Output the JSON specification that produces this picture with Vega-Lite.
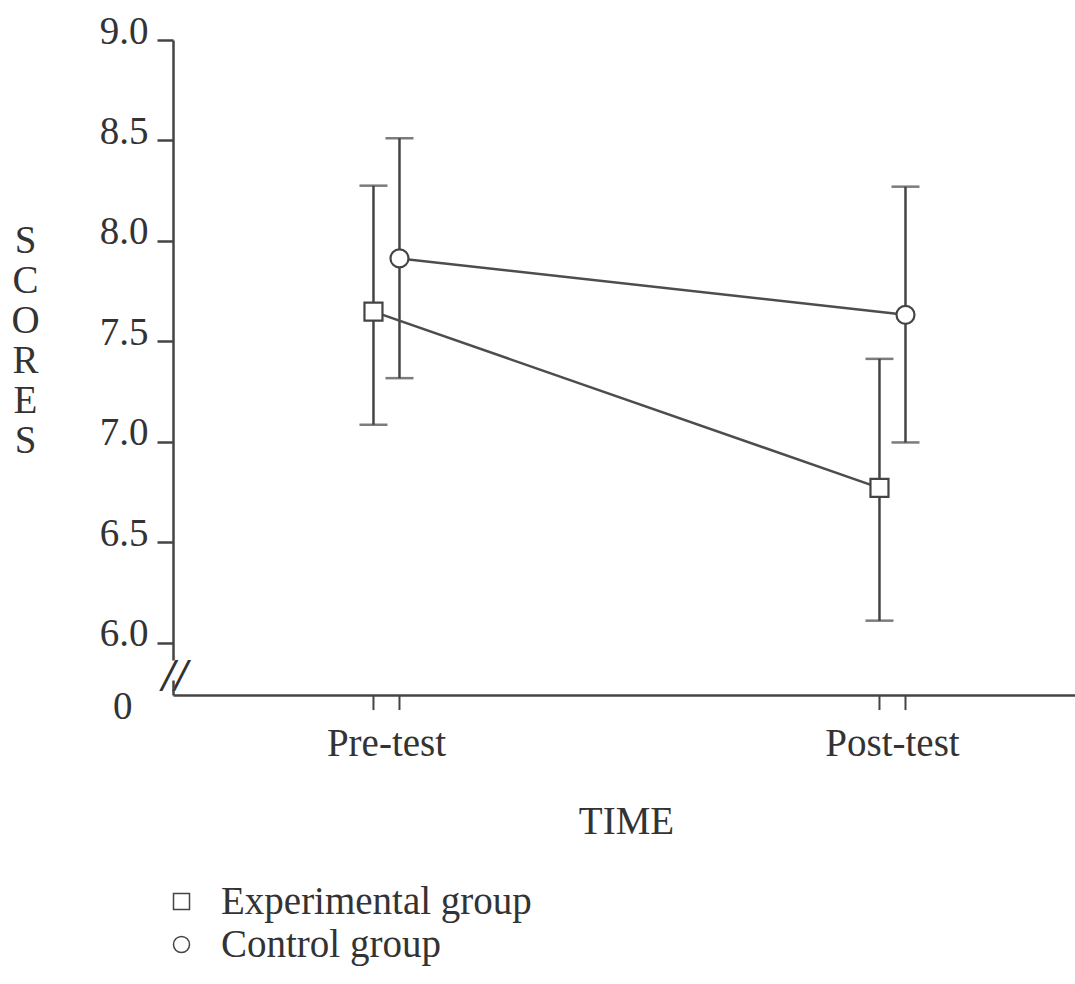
{
  "$schema": "https://vega.github.io/schema/vega-lite/v6.json",
  "autosize": {"type": "none"},
  "padding": {"left": 173, "top": 40, "right": 0, "bottom": 289},
  "width": 902,
  "height": 655,
  "background": "white",
  "config": {"view": {"stroke": null}, "font": "Liberation Serif"},
  "data": {
    "values": [
      {"time": "Pre-test", "group": "Experimental group", "mean": 7.648, "low": 7.085, "high": 8.275},
      {"time": "Pre-test", "group": "Control group", "mean": 7.913, "low": 7.317, "high": 8.511},
      {"time": "Post-test", "group": "Experimental group", "mean": 6.771, "low": 6.11, "high": 7.413},
      {"time": "Post-test", "group": "Control group", "mean": 7.632, "low": 6.997, "high": 8.27}
    ]
  },
  "encoding": {
    "x": {
      "field": "time",
      "type": "nominal",
      "sort": ["Pre-test", "Post-test"],
      "scale": {"type": "band", "domain": ["Pre-test", "Post-test"], "paddingInner": 0.8972, "paddingOuter": 0.3399, "align": 0.545},
      "axis": {
        "title": "TIME",
        "domainColor": "#444",
        "domainWidth": 2.5,
        "ticks": false,
        "labelAngle": 0,
        "labelFontSize": 39,
        "labelBaseline": "alphabetic",
        "labelPadding": 60,
        "labelColor": "#333",
        "titleFontSize": 39,
        "titleFontWeight": "normal",
        "titleColor": "#333",
        "titleX": 453,
        "titleY": 138,
        "titleBaseline": "alphabetic",
        "titleAlign": "center",
        "grid": false
      }
    },
    "xOffset": {
      "field": "group",
      "type": "nominal",
      "scale": {"domain": ["Experimental group", "Control group"], "paddingInner": 0, "paddingOuter": 0}
    }
  },
  "layer": [
    {
      "mark": {"type": "rule", "stroke": "#444", "strokeWidth": 2.5},
      "encoding": {
        "y": {
          "field": "low",
          "type": "quantitative",
          "scale": {"domain": [5.74, 9.0], "nice": false, "zero": false},
          "axis": {
            "title": ["S", "C", "O", "R", "E", "S"],
            "titleAngle": 0,
            "titleFontSize": 39,
            "titleFontWeight": "normal",
            "titleColor": "#333",
            "titleLineHeight": 40,
            "titleX": -148,
            "titleY": 212,
            "titleAlign": "center",
            "titleBaseline": "alphabetic",
            "values": [5.74, 5.831, 6, 6.5, 7, 7.5, 8, 8.5, 9],
            "labelExpr": "datum.value < 5.8 ? '0' : datum.value < 5.9 ? '//' : format(datum.value, '.1f')",
            "labelFontSize": {"condition": {"test": "datum.value > 5.8 && datum.value < 5.9", "value": 46}, "value": 39},
            "labelFontWeight": {"condition": {"test": "datum.value > 5.8 && datum.value < 5.9", "value": "bold"}, "value": "normal"},
            "labelFontStyle": {"condition": {"test": "datum.value > 5.8 && datum.value < 5.9", "value": "italic"}, "value": "normal"},
            "labelColor": "#333",
            "labelBaseline": {"condition": {"test": "datum.value > 5.8 && datum.value < 5.9", "value": "middle"}, "value": "alphabetic"},
            "labelOffset": {"condition": [{"test": "datum.value < 5.8", "value": 23}, {"test": "datum.value < 5.9", "value": 0}], "value": 3},
            "labelPadding": {"condition": [{"test": "datum.value < 5.8", "value": 25}, {"test": "datum.value < 5.9", "value": -30}], "value": 9},
            "tickSize": 16,
            "tickWidth": 2.5,
            "tickColor": "#444",
            "tickOpacity": {"condition": {"test": "datum.value < 5.9", "value": 0}, "value": 1},
            "domainDash": [15, 20, 2000],
            "domainWidth": 2.5,
            "domainColor": "#444",
            "grid": false
          }
        },
        "y2": {"field": "high"}
      }
    },
    {
      "mark": {"type": "tick", "orient": "horizontal", "size": 28, "thickness": 2.5, "color": "#444"},
      "encoding": {"y": {"field": "low", "type": "quantitative"}}
    },
    {
      "mark": {"type": "tick", "orient": "horizontal", "size": 28, "thickness": 2.5, "color": "#444"},
      "encoding": {"y": {"field": "high", "type": "quantitative"}}
    },
    {
      "mark": {"type": "rule", "stroke": "#444", "strokeWidth": 2},
      "encoding": {"y": {"datum": 5.74, "type": "quantitative"}, "y2": {"datum": 5.665}}
    },
    {
      "mark": {"type": "line", "stroke": "#4d4d4d", "strokeWidth": 2.5},
      "encoding": {
        "y": {"field": "mean", "type": "quantitative"},
        "detail": {"field": "group"}
      }
    },
    {
      "mark": {"type": "point", "filled": true, "fill": "white", "stroke": "#444", "strokeWidth": 2.2, "size": 324, "opacity": 1},
      "encoding": {
        "y": {"field": "mean", "type": "quantitative"},
        "shape": {
          "field": "group",
          "type": "nominal",
          "scale": {"domain": ["Experimental group", "Control group"], "range": ["square", "circle"]},
          "legend": {
            "orient": "none",
            "legendX": -11,
            "legendY": 842,
            "title": null,
            "labelFontSize": 39,
            "labelColor": "#333",
            "labelLimit": 0,
            "labelOffset": 20,
            "symbolSize": 256,
            "rowPadding": 3,
            "encode": {
              "symbols": {
                "update": {
                  "stroke": {"value": "#444"},
                  "strokeWidth": {"value": 2},
                  "fill": {"value": "white"},
                  "opacity": {"value": 1}
                }
              }
            }
          }
        }
      }
    }
  ]
}
